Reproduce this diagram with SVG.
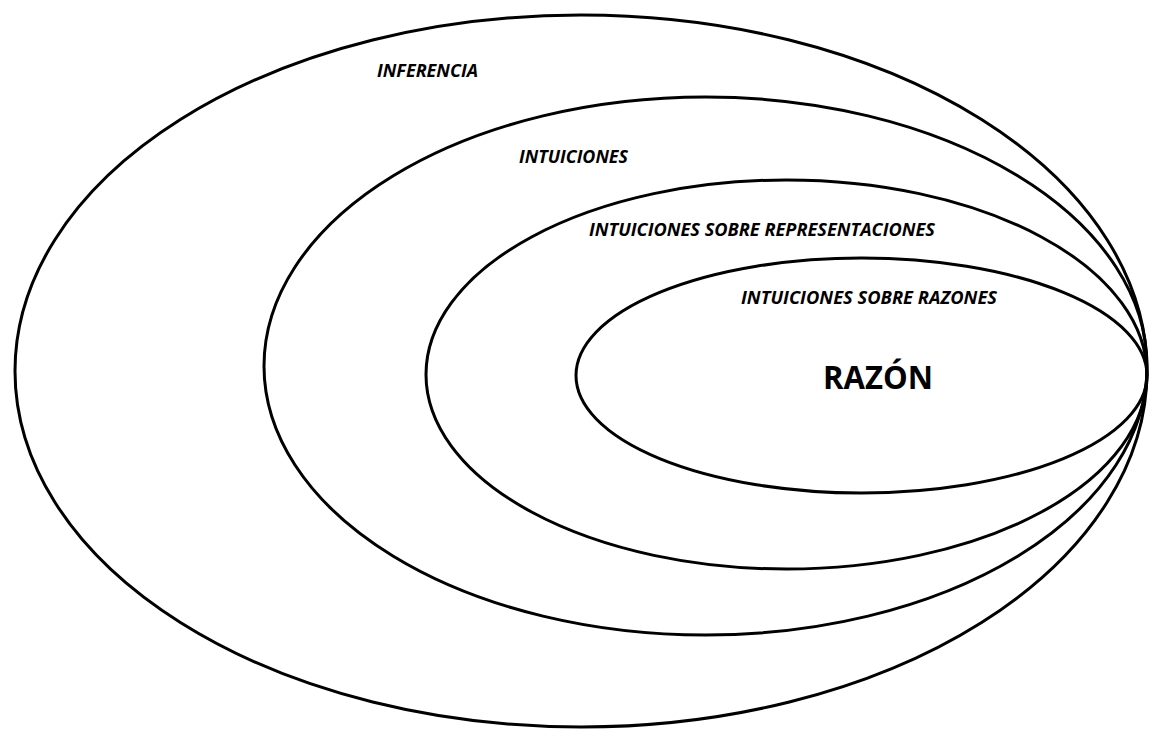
<svg xmlns="http://www.w3.org/2000/svg" width="1158" height="740" viewBox="0 0 1158 740">
<style>
.e{fill:none;stroke:#000;stroke-width:3}
.l{font-family:"Open Sans","Noto Sans",sans-serif;font-weight:bold;font-style:italic;font-size:18px;fill:#000}
.big{font-family:"Open Sans","Noto Sans",sans-serif;font-weight:bold;font-size:32px;fill:#000}
</style>
<rect width="1158" height="740" fill="#fff"/>
<g id="inferencia">
<ellipse class="e" cx="581" cy="371" rx="566" ry="356"/>
<text class="l" x="377" y="77" textLength="101" lengthAdjust="spacingAndGlyphs">INFERENCIA</text>
</g>
<g id="intuiciones">
<ellipse class="e" cx="705.5" cy="366" rx="441.5" ry="269"/>
<text class="l" x="519" y="163" textLength="109" lengthAdjust="spacingAndGlyphs">INTUICIONES</text>
</g>
<g id="intuiciones-representaciones">
<ellipse class="e" cx="786.5" cy="374.5" rx="360.5" ry="194.5"/>
<text class="l" x="589" y="236" textLength="346" lengthAdjust="spacingAndGlyphs">INTUICIONES SOBRE REPRESENTACIONES</text>
</g>
<g id="intuiciones-razones">
<ellipse class="e" cx="861.5" cy="375.5" rx="285.5" ry="117.5"/>
<text class="l" x="741" y="304" textLength="256" lengthAdjust="spacingAndGlyphs">INTUICIONES SOBRE RAZONES</text>
<text class="big" x="823" y="389" textLength="110" lengthAdjust="spacingAndGlyphs">RAZÓN</text>
</g>
<g id="connectors"/>
</svg>
